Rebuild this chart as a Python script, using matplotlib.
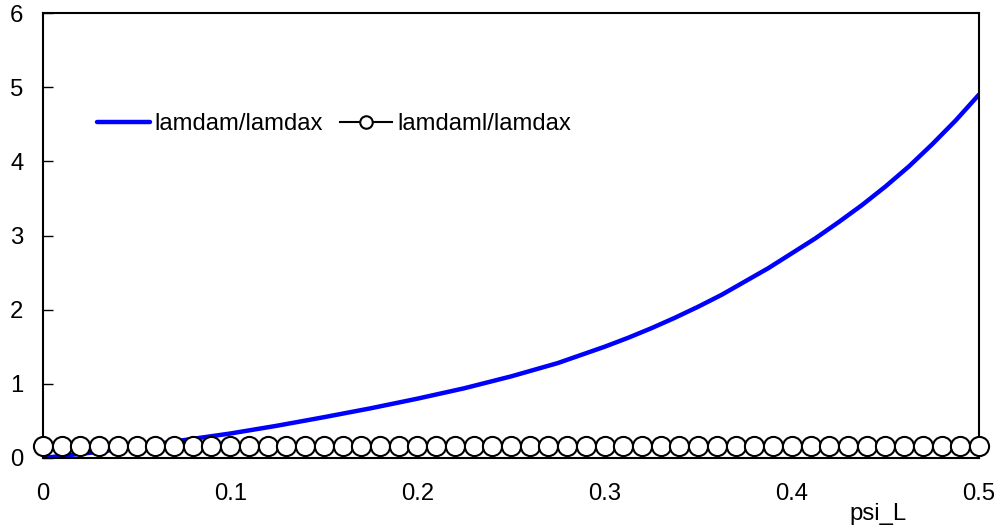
import matplotlib
matplotlib.use("Agg")
import matplotlib.pyplot as plt
from matplotlib.lines import Line2D

plt.rcParams['font.family'] = ['Liberation Sans', 'DejaVu Sans']

psi = [0.0, 0.025, 0.05, 0.075, 0.1, 0.125, 0.15, 0.175, 0.2, 0.225, 0.25,
       0.275, 0.3, 0.3125, 0.325, 0.3375, 0.35, 0.3625, 0.375, 0.3875, 0.4,
       0.4125, 0.425, 0.4375, 0.45, 0.4625, 0.475, 0.4875, 0.5]
lamdam_ratio = [0.0, 0.07, 0.15, 0.24, 0.33, 0.435, 0.55, 0.67, 0.80, 0.94, 1.10,
                1.28, 1.50, 1.62, 1.75, 1.89, 2.04, 2.20, 2.38, 2.56, 2.76,
                2.96, 3.18, 3.41, 3.66, 3.93, 4.23, 4.55, 4.90]
psi_circ = [i / 100 for i in range(51)]
lamdaml_ratio = [0.16] * 51

x_ticks = [0, 0.1, 0.2, 0.3, 0.4, 0.5]
x_labels = ['0', '0.1', '0.2', '0.3', '0.4', '0.5']
y_ticks = [0, 1, 2, 3, 4, 5, 6]

FS = 17.2

fig = plt.figure(figsize=(10.05, 5.29), dpi=100)
ax = fig.add_axes([43 / 1005, 1 - 458 / 529, (979 - 43) / 1005, (458 - 13) / 529])

ax.plot(psi, lamdam_ratio, color='#0000ff', lw=3.2, solid_capstyle='round',
        solid_joinstyle='round', zorder=2)
ax.plot(psi_circ, lamdaml_ratio, color='black', lw=1.5, marker='o', ms=13.8,
        mfc='white', mec='black', mew=1.5, clip_on=False, zorder=3)

ax.set_xlim(0, 0.5)
ax.set_ylim(0, 6)
ax.set_xticks(x_ticks)
ax.set_xticklabels(x_labels)
ax.set_yticks(y_ticks)
ax.tick_params(axis='x', length=0, pad=18, labelsize=FS)
ax.tick_params(axis='y', direction='in', length=7, width=1, pad=14, labelsize=FS)
for s in ax.spines.values():
    s.set_linewidth(1.5)

ax.set_xlabel('psi_L', fontsize=FS)
ax.xaxis.set_label_coords((878 - 43) / 936, -0.102)

h1 = Line2D([], [], color='#0000ff', lw=3.2, solid_capstyle='round')
h2 = Line2D([], [], color='black', lw=1.5, marker='o', ms=9, mfc='white', mec='black', mew=1.5)
ax.legend([h1, h2], ['lamdam/lamdax', 'lamdaml/lamdax'], ncol=2, frameon=False,
          loc='center left', bbox_to_anchor=((97 - 43) / 936, (458 - 124) / 445),
          fontsize=FS, borderpad=0, borderaxespad=0,
          handlelength=2.2, handletextpad=0.2, columnspacing=0.7)

fig.savefig('out.png', dpi=100, facecolor='white')
